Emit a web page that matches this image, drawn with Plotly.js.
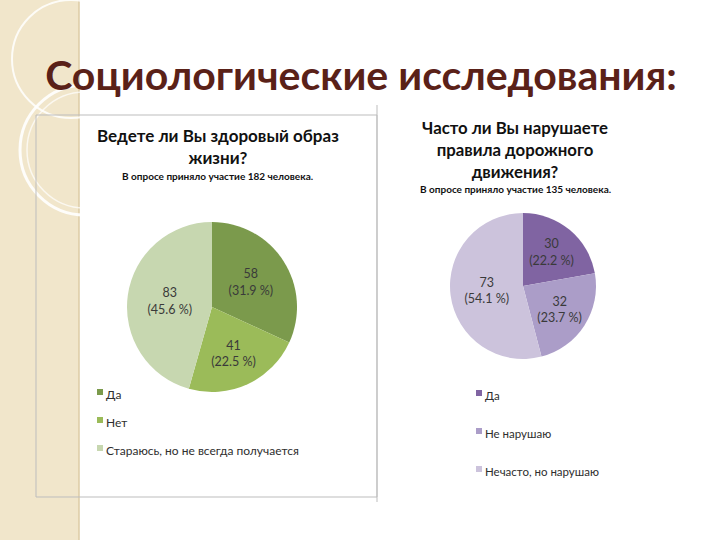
<!DOCTYPE html>
<html>
<head>
<meta charset="utf-8">
<script src="https://cdn.plot.ly/plotly-3.0.1.min.js"></script>
<style>
  html, body { margin: 0; padding: 0; background: #ffffff; }
  #chart { width: 720px; height: 540px; }
</style>
</head>
<body>
<div id="chart"></div>
<script>
// ---- data ----
const slideTitle = 'Социологические исследования:';

const leftTitle = 'Ведете ли Вы здоровый образ<br>жизни?';
const leftSubtitle = 'В опросе приняло участие 182 человека.';
const leftLabels = ['Да', 'Нет', 'Стараюсь, но не всегда получается'];
const leftValues = [58, 41, 83];
const leftColors = ['#7b9a4c', '#9bbb59', '#c7d7b0'];

const rightTitle = 'Часто ли Вы нарушаете<br>правила дорожного<br>движения?';
const rightSubtitle = 'В опросе приняло участие 135 человека.';
const rightLabels = ['Да', 'Не нарушаю', 'Нечасто, но нарушаю'];
const rightValues = [30, 32, 73];
const rightColors = ['#8064a2', '#ab9dc8', '#ccc3dc'];

// ---- helpers ----
function pctStrings(vals) {
  const total = vals.reduce((a, b) => a + b, 0);
  return vals.map(v => (v / total * 100).toFixed(1));
}
const W = 720, H = 540;
const px = x => x / W;
const py = y => 1 - y / H;

const FAMILY = 'Lato, "Noto Sans", sans-serif';
const textFont = { family: FAMILY, size: 12.5, color: '#3a3a3a' };

function pieTrace(labels, values, colors, domain) {
  return {
    type: 'pie',
    labels: labels,
    values: values,
    customdata: pctStrings(values),
    texttemplate: '%{value}<br>(%{customdata} %)',
    textposition: 'inside',
    insidetextorientation: 'horizontal',
    textfont: textFont,
    marker: { colors: colors, line: { width: 0 } },
    sort: false,
    direction: 'clockwise',
    rotation: 0,
    domain: domain,
    hoverinfo: 'skip',
    showlegend: false
  };
}

const traces = [
  pieTrace(leftLabels, leftValues, leftColors,
           { x: [px(127), px(297)], y: [py(392), py(222)] }),
  pieTrace(rightLabels, rightValues, rightColors,
           { x: [px(450), px(596)], y: [py(359), py(213)] })
];

// legend drawn as small squares + text (legend layout, not data marks)
function legendItems(labels, colors, x0, yFirst, step, fontSize) {
  const shapes = [], anns = [];
  labels.forEach((lab, i) => {
    const y = yFirst + i * step;
    shapes.push({ type: 'rect', xref: 'paper', yref: 'paper',
      x0: px(x0 - 3), x1: px(x0 + 3), y0: py(y + 1), y1: py(y - 5),
      fillcolor: colors[i], line: { width: 0 } });
    anns.push({ xref: 'paper', yref: 'paper', x: px(x0 + 4), y: py(y), xanchor: 'left', yanchor: 'middle',
      text: lab, showarrow: false,
      font: { family: FAMILY, size: fontSize, color: '#2e2e2e' } });
  });
  return { shapes, anns };
}
const legL = legendItems(leftLabels, leftColors, 100, 394, 28, 12);
const legR = legendItems(rightLabels, rightColors, 479, 395, 38, 11.5);

const layout = {
  width: W,
  height: H,
  margin: { l: 0, r: 0, t: 0, b: 0 },
  paper_bgcolor: '#ffffff',
  font: textFont,
  showlegend: false,
  title: {
    text: slideTitle,
    font: { family: 'Lato, "Open Sans", sans-serif', size: 41, color: '#5a2118', weight: 'bold' },
    x: px(361), xanchor: 'center',
    y: py(76), yanchor: 'middle'
  },
  shapes: [
    // beige side band
    { type: 'rect', xref: 'paper', yref: 'paper', layer: 'below',
      x0: 0, x1: px(79), y0: 0, y1: 1,
      fillcolor: '#f1e6cb', line: { width: 0 } },
    { type: 'line', xref: 'paper', yref: 'paper', layer: 'below',
      x0: px(79), x1: px(79), y0: 0, y1: 1,
      line: { color: '#dccba4', width: 1.5 } },
    // decorative arcs
    { type: 'circle', xref: 'paper', yref: 'paper', layer: 'below',
      x0: px(12), x1: px(130), y0: py(118), y1: py(0),
      line: { color: 'rgba(255,255,255,0.85)', width: 2 } },
    { type: 'circle', xref: 'paper', yref: 'paper', layer: 'below',
      x0: px(20), x1: px(150), y0: py(215), y1: py(85),
      line: { color: 'rgba(255,255,255,0.9)', width: 3 } },
    { type: 'circle', xref: 'paper', yref: 'paper', layer: 'below',
      x0: px(27), x1: px(143), y0: py(208), y1: py(92),
      line: { color: 'rgba(255,255,255,0.7)', width: 1.5 } },
    // left chart frame
    { type: 'rect', xref: 'paper', yref: 'paper',
      x0: px(36), x1: px(377), y0: py(497), y1: py(115),
      line: { color: '#bdbdbd', width: 1 } },
    { type: 'line', xref: 'paper', yref: 'paper',
      x0: px(377), x1: px(377), y0: py(502), y1: py(105),
      line: { color: '#bdbdbd', width: 1 } }
  ].concat(legL.shapes, legR.shapes),
  annotations: [
    { xref: 'paper', yref: 'paper', x: px(218), y: py(146), xanchor: 'center', yanchor: 'middle',
      text: leftTitle, showarrow: false, align: 'center',
      font: { family: FAMILY, size: 17, color: '#111111', weight: 'bold' } },
    { xref: 'paper', yref: 'paper', x: px(218), y: py(176), xanchor: 'center', yanchor: 'middle',
      text: leftSubtitle, showarrow: false,
      font: { family: FAMILY, size: 10, color: '#111111', weight: 'bold' } },
    { xref: 'paper', yref: 'paper', x: px(515), y: py(149), xanchor: 'center', yanchor: 'middle',
      text: rightTitle, showarrow: false, align: 'center',
      font: { family: FAMILY, size: 16.8, color: '#111111', weight: 'bold' } },
    { xref: 'paper', yref: 'paper', x: px(515), y: py(189), xanchor: 'center', yanchor: 'middle',
      text: rightSubtitle, showarrow: false,
      font: { family: FAMILY, size: 10, color: '#111111', weight: 'bold' } }
  ].concat(legL.anns, legR.anns)
};

Plotly.newPlot('chart', traces, layout, { displayModeBar: false, staticPlot: true });
</script>
</body>
</html>
